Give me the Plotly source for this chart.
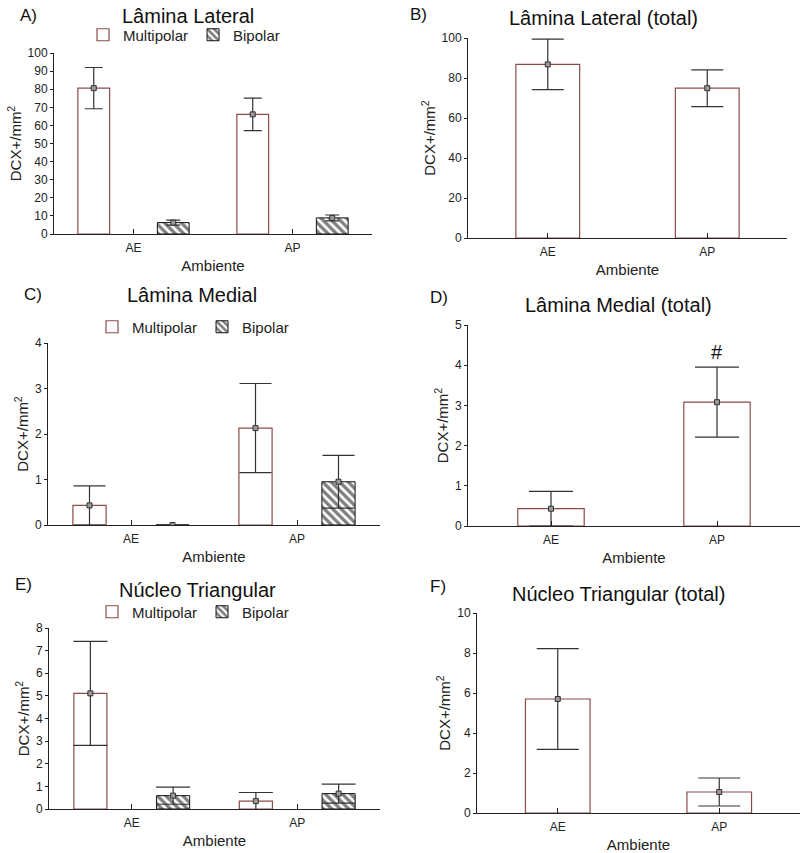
import plotly.graph_objects as go

# ---------------- data ----------------
categories = ["AE", "AP"]

lat_multi = [80.6, 66.1]
lat_multi_err = [11.4, 9.0]
lat_bi = [6.3, 8.9]
lat_bi_err = [1.4, 1.6]
lat_total = [86.8, 74.9]
lat_total_err = [12.6, 9.2]

med_multi = [0.43, 2.13]
med_multi_err = [0.43, 0.98]
med_bi = [0.0, 0.95]
med_bi_err = [0.0, 0.58]
med_total = [0.43, 3.08]
med_total_err = [0.43, 0.87]

tri_multi = [5.11, 0.35]
tri_multi_err = [2.30, 0.38]
tri_bi = [0.59, 0.68]
tri_bi_err = [0.38, 0.42]
tri_total = [5.70, 1.05]
tri_total_err = [2.52, 0.70]

# ---------------- styles ----------------
W, H = 800, 853
BROWN = "rgb(140,75,75)"
DARK = "#333333"
FONT = "Liberation Sans, Arial, sans-serif"


def px_x(p):
    return p / W


def px_y(p):
    return 1 - p / H


fig = go.Figure()

panels = {
    "A": dict(n="", xd=(54, 372), yd=(53, 234), yr=(0, 100), dt=10),
    "B": dict(n="2", xd=(468, 787), yd=(38, 238), yr=(0, 100), dt=20),
    "C": dict(n="3", xd=(48, 380), yd=(343, 525), yr=(0, 4), dt=1),
    "D": dict(n="4", xd=(468, 800), yd=(325, 526), yr=(0, 5), dt=1),
    "E": dict(n="5", xd=(49, 380), yd=(628, 809), yr=(0, 8), dt=1),
    "F": dict(n="6", xd=(477, 800), yd=(613, 813), yr=(0, 10), dt=2),
}

HATCH = dict(shape="\\", fgcolor="#000000", bgcolor="white", size=6, solidity=0.55)
MARK = dict(symbol="square", size=5, color="#9a9a9a", line=dict(width=1, color="#333333"))


def add_group(panel, multi, multi_err, bi, bi_err, legend, cap_m, cap_b):
    n = panels[panel]["n"]
    xa, ya = "x" + n, "y" + n
    fig.add_trace(go.Bar(
        x=categories, y=multi, name="Multipolar", offsetgroup="m",
        xaxis=xa, yaxis=ya, legend=legend,
        marker=dict(color="white", line=dict(color=BROWN, width=1.2)),
    ))
    fig.add_trace(go.Bar(
        x=categories, y=bi, name="Bipolar", offsetgroup="b",
        xaxis=xa, yaxis=ya, legend=legend,
        marker=dict(color="white", line=dict(color="#111111", width=1), pattern=HATCH),
    ))
    for vals, errs, grp, cap in ((multi, multi_err, "m", cap_m), (bi, bi_err, "b", cap_b)):
        fig.add_trace(go.Scatter(
            x=categories, y=vals, mode="markers", offsetgroup=grp,
            xaxis=xa, yaxis=ya, showlegend=False, marker=MARK,
            error_y=dict(type="data", array=errs, color=DARK, thickness=1.2, width=cap),
        ))


def add_total(panel, vals, errs, cap):
    n = panels[panel]["n"]
    xa, ya = "x" + n, "y" + n
    fig.add_trace(go.Bar(
        x=categories, y=vals, name="Total", offsetgroup="t",
        xaxis=xa, yaxis=ya, showlegend=False,
        marker=dict(color="white", line=dict(color=BROWN, width=1.2)),
    ))
    fig.add_trace(go.Scatter(
        x=categories, y=vals, mode="markers", offsetgroup="t",
        xaxis=xa, yaxis=ya, showlegend=False, marker=MARK,
        error_y=dict(type="data", array=errs, color=DARK, thickness=1.2, width=cap),
    ))


add_group("A", lat_multi, lat_multi_err, lat_bi, lat_bi_err, "legend", 9, 7)
add_total("B", lat_total, lat_total_err, 16)
add_group("C", med_multi, med_multi_err, med_bi, med_bi_err, "legend2", 16, 16)
add_total("D", med_total, med_total_err, 22)
add_group("E", tri_multi, tri_multi_err, tri_bi, tri_bi_err, "legend3", 17, 17)
add_total("F", tri_total, tri_total_err, 21)

layout = dict(
    width=W, height=H,
    margin=dict(l=0, r=0, t=0, b=0, autoexpand=False),
    paper_bgcolor="white", plot_bgcolor="white",
    font=dict(family=FONT, color="#222222"),
    barmode="group", bargap=0.0, bargroupgap=0.6,
    scattermode="group", scattergap=0.0,
)

for key, p in panels.items():
    n = p["n"]
    layout["xaxis" + n] = dict(
        domain=[px_x(p["xd"][0]), px_x(p["xd"][1])],
        anchor="y" + n, type="category", range=[-0.5, 1.5], automargin=False,
        showline=True, linecolor="#222222", linewidth=1,
        ticks="inside", ticklen=5, tickcolor="#222222", ticklabelstandoff=3,
        showgrid=False, zeroline=False,
        tickfont=dict(size=12, color="#222222"),
        title=dict(text="Ambiente", font=dict(size=15, color="#222222"), standoff=6),
    )
    layout["yaxis" + n] = dict(
        domain=[px_y(p["yd"][1]), px_y(p["yd"][0])],
        anchor="x" + n, range=list(p["yr"]), dtick=p["dt"], tick0=0, automargin=False,
        showline=True, linecolor="#222222", linewidth=1,
        ticks="outside", ticklen=3, tickcolor="#222222",
        showgrid=False, zeroline=False,
        tickfont=dict(size=12, color="#222222"),
        title=dict(text="DCX+/mm<sup>2</sup>", font=dict(size=15, color="#222222"), standoff=2),
    )

leg_common = dict(orientation="h", xanchor="center", yanchor="middle",
                  font=dict(size=15, color="#222222"), bgcolor="rgba(0,0,0,0)",
                  itemwidth=30, tracegroupgap=0)
layout["legend"] = dict(x=px_x(184), y=px_y(35), **leg_common)
layout["legend2"] = dict(x=px_x(193), y=px_y(327), **leg_common)
layout["legend3"] = dict(x=px_x(193), y=px_y(612), **leg_common)

fig.update_layout(**layout)

titles = [
    ("Lâmina Lateral", 188, 16), ("Lâmina Lateral (total)", 603, 18),
    ("Lâmina Medial", 192, 295), ("Lâmina Medial (total)", 618, 305),
    ("Núcleo Triangular", 197, 590), ("Núcleo Triangular (total)", 618, 594),
]
for text, x, y in titles:
    fig.add_annotation(text=text, x=px_x(x), y=px_y(y), xref="paper", yref="paper",
                       xanchor="center", yanchor="middle", showarrow=False,
                       font=dict(size=20, color="#111111", family=FONT))

labels = [("A)", 29, 16), ("B)", 418, 15), ("C)", 33, 294),
          ("D)", 439, 298), ("E)", 23, 584), ("F)", 438, 586)]
for text, x, y in labels:
    fig.add_annotation(text=text, x=px_x(x), y=px_y(y), xref="paper", yref="paper",
                       xanchor="center", yanchor="middle", showarrow=False,
                       font=dict(size=17, color="#111111", family=FONT))

fig.add_annotation(text="#", x="AP", xref="x4", y=px_y(352), yref="paper",
                   xanchor="center", yanchor="middle", showarrow=False,
                   font=dict(size=20, color="#111111", family=FONT))

# remove the browser's default 8px body margin so the figure fills the window
fig.write_html("out.html", config={"displayModeBar": False},
               post_script="document.body.style.margin='0';")
